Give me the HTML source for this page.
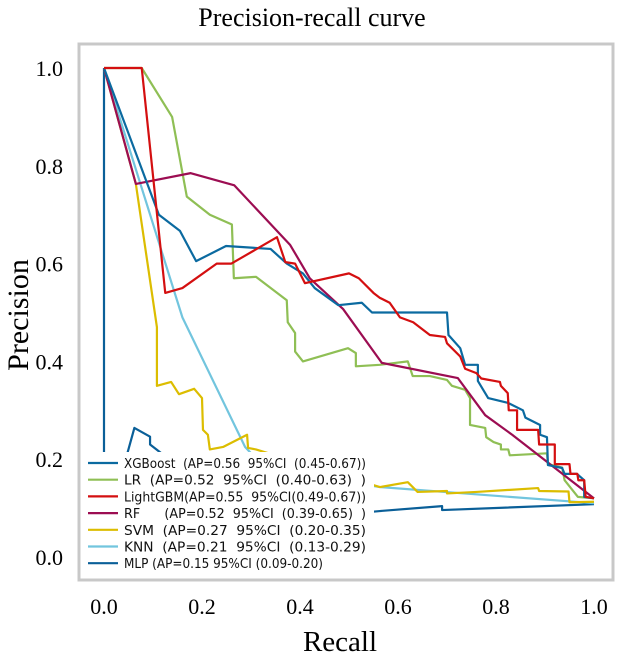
<!DOCTYPE html>
<html><head><meta charset="utf-8"><style>
body{margin:0;background:#fff;}
svg text{font-family:"Liberation Serif",serif;}
.lg{font-family:"DejaVu Sans Condensed","DejaVu Sans","Liberation Sans",sans-serif;font-size:13px;fill:#111;}
</style></head><body>
<svg id="chart" width="624" height="662" xmlns="http://www.w3.org/2000/svg">
<rect width="624" height="662" fill="#fff"/>
<text x="312" y="26" text-anchor="middle" font-size="26">Precision-recall curve</text>
<rect x="79" y="44" width="534" height="536" fill="none" stroke="#c8c8c8" stroke-width="3"/>
<g id="ticks"></g>
<g id="series"></g>
<text x="340" y="651" text-anchor="middle" font-size="29">Recall</text>
<text x="0" y="0" transform="translate(28,315) rotate(-90)" text-anchor="middle" font-size="30">Precision</text>
<g id="legend"></g>
</svg>
<script>
const xTicks=[0,0.2,0.4,0.6,0.8,1.0];
const yTicks=[0,0.2,0.4,0.6,0.8,1.0];
const names=["XGBoost","LR","LightGBM","RF","SVM","KNN","MLP"];
const colors=["#0b6aa0","#8fbf55","#d40f10","#9c0d52","#dcbd00","#72c5de","#0a5f98"];
const legendLabels=["XGBoost  (AP=0.56  95%CI  (0.45-0.67))","LR  (AP=0.52  95%CI  (0.40-0.63)  )","LightGBM(AP=0.55  95%CI(0.49-0.67))","RF      (AP=0.52  95%CI  (0.39-0.65)  )","SVM  (AP=0.27  95%CI  (0.20-0.35)","KNN  (AP=0.21  95%CI  (0.13-0.29)","MLP (AP=0.15 95%CI (0.09-0.20)"];
const xgbR=[0,0.112,0.155,0.188,0.249,0.34,0.373,0.406,0.43,0.478,0.526,0.547,0.563,0.70,0.703,0.727,0.737,0.763,0.763,0.784,0.825,0.855,0.86,0.89,0.89,0.904,0.906,0.935,0.94,0.965,0.98,0.98,1.0];
const xgbP=[1,0.70,0.667,0.605,0.636,0.63,0.60,0.58,0.55,0.515,0.52,0.50,0.50,0.50,0.454,0.427,0.393,0.393,0.36,0.325,0.315,0.30,0.285,0.27,0.25,0.245,0.188,0.182,0.17,0.17,0.157,0.123,0.12];
const lrR=[0,0.077,0.139,0.169,0.216,0.261,0.265,0.31,0.373,0.375,0.39,0.39,0.406,0.498,0.514,0.514,0.563,0.62,0.63,0.665,0.70,0.71,0.737,0.747,0.747,0.778,0.78,0.795,0.81,0.81,0.825,0.828,0.904,0.906,0.935,0.94,0.967,1.0];
const lrP=[1,1,0.90,0.737,0.70,0.68,0.57,0.573,0.525,0.48,0.458,0.42,0.40,0.427,0.417,0.39,0.393,0.40,0.37,0.37,0.362,0.35,0.342,0.325,0.27,0.264,0.245,0.235,0.23,0.22,0.22,0.208,0.212,0.19,0.183,0.157,0.123,0.12];
const gbmR=[0,0.077,0.125,0.16,0.23,0.26,0.353,0.37,0.39,0.41,0.5,0.52,0.55,0.563,0.583,0.604,0.631,0.665,0.696,0.70,0.727,0.737,0.76,0.77,0.808,0.81,0.824,0.826,0.843,0.843,0.886,0.888,0.92,0.92,0.95,0.952,0.966,0.968,0.98,0.983,1.0];
const gbmP=[1,1,0.54,0.55,0.60,0.60,0.654,0.603,0.60,0.56,0.58,0.57,0.54,0.53,0.52,0.49,0.48,0.454,0.45,0.437,0.41,0.385,0.376,0.365,0.358,0.35,0.335,0.30,0.30,0.26,0.26,0.23,0.23,0.19,0.19,0.17,0.17,0.157,0.157,0.123,0.12];
const rfR=[0,0.065,0.177,0.266,0.38,0.42,0.488,0.567,0.722,0.778,0.833,1.0];
const rfP=[1,0.763,0.785,0.76,0.638,0.57,0.507,0.397,0.366,0.29,0.25,0.12];
const svmR=[0,0.065,0.108,0.108,0.137,0.153,0.184,0.2,0.202,0.212,0.216,0.243,0.292,0.294,0.31,0.563,0.62,0.64,0.70,0.70,0.76,0.886,0.888,0.948,0.95,1.0];
const svmP=[1,0.763,0.47,0.35,0.358,0.333,0.344,0.325,0.26,0.25,0.22,0.225,0.25,0.223,0.22,0.143,0.153,0.133,0.135,0.13,0.133,0.141,0.135,0.134,0.112,0.113];
const knnR=[0,0.16,0.288,0.33,0.563,1.0];
const knnP=[1,0.49,0.225,0.18,0.143,0.11];
const mlpR=[0,0,0.025,0.062,0.094,0.094,0.3,0.563,0.69,0.69,1.0];
const mlpP=[1,0,0.13,0.264,0.246,0.23,0.07,0.094,0.104,0.096,0.108];
const seriesR=[xgbR,lrR,gbmR,rfR,svmR,knnR,mlpR];
const seriesP=[xgbP,lrP,gbmP,rfP,svmP,knnP,mlpP];

const X=v=>104+v*490;
const Y=v=>557-v*489;
const NS="http://www.w3.org/2000/svg";
const tk=document.getElementById('ticks');
xTicks.forEach(t=>{const e=document.createElementNS(NS,'text');
e.setAttribute('x',X(t));e.setAttribute('y',614);e.setAttribute('text-anchor','middle');e.setAttribute('font-size','22');
e.textContent=t.toFixed(1);


tk.appendChild(e);});
yTicks.forEach(t=>{const e=document.createElementNS(NS,'text');
e.setAttribute('x',63);e.setAttribute('y',Y(t)+8);e.setAttribute('text-anchor','end');e.setAttribute('font-size','22');
e.textContent=t.toFixed(1);


tk.appendChild(e);});
const sg=document.getElementById('series');
const order=[6,5,4,1,3,0,2];
order.forEach(i=>{const p=document.createElementNS(NS,'polyline');
p.setAttribute('points',seriesR[i].map((r,k)=>X(r)+','+Y(seriesP[i][k])).join(' '));
p.setAttribute('fill','none');p.setAttribute('stroke',colors[i]);p.setAttribute('stroke-width','2.2');p.setAttribute('stroke-linejoin','round');


sg.appendChild(p);});
const lg=document.getElementById('legend');
const bg=document.createElementNS(NS,'rect');
bg.setAttribute('x',84);bg.setAttribute('y',452);bg.setAttribute('width',290);bg.setAttribute('height',122);bg.setAttribute('fill','#fff');


lg.appendChild(bg);
names.forEach((n,i)=>{const y=463+i*16.7;
const l=document.createElementNS(NS,'line');
l.setAttribute('x1',88);l.setAttribute('x2',118);l.setAttribute('y1',y);l.setAttribute('y2',y);l.setAttribute('stroke',colors[i]);l.setAttribute('stroke-width','2.2');


lg.appendChild(l);
const t=document.createElementNS(NS,'text');
t.setAttribute('x',124);t.setAttribute('y',y+5);t.setAttribute('class','lg');t.setAttribute('xml:space','preserve');t.style.whiteSpace='pre';
t.setAttribute('textLength', i===6?199:242);t.setAttribute('lengthAdjust','spacingAndGlyphs');
t.textContent=legendLabels[i];


lg.appendChild(t);});
</script>
</body></html>
